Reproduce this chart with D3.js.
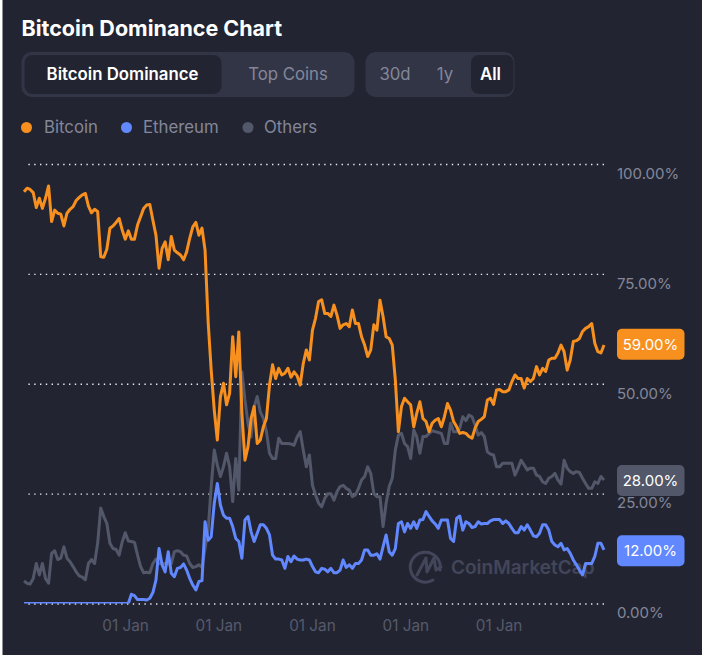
<!DOCTYPE html>
<html>
<head>
<meta charset="utf-8">
<script src="https://cdn.jsdelivr.net/npm/d3@7/dist/d3.min.js"></script>
<style>
  html, body { margin: 0; padding: 0; background: #fff; }
  svg { display: block; font-family: Inter, "Noto Sans", sans-serif; }
</style>
</head>
<body>
<svg id="chart" width="702" height="659"></svg>
<script>
// one sample every 12 days
const startDate = new Date(2013, 11, 2);
const stepDays = 12;

const bitcoin = [93.7,94.5,94.2,93.5,90.1,92.2,89.9,92.2,95,86.9,89.5,88.8,88.6,85.9,88.8,89.7,90.3,91.7,92.4,93,
  93.3,90.4,88.9,89.7,89.2,78.9,78.8,80.6,85.4,85.9,86.7,87.6,85,82.9,84.8,82.9,82.9,86.1,88,89.9,
  90.7,90.8,87.2,83.8,76.3,80.8,82.3,78.2,83.5,80.4,79.8,79.3,78.2,80,83.1,85.7,86.7,83.8,85.4,80.4,
  64.1,53.1,44,37.2,47,50.1,45.2,47.8,60.7,51.6,61.8,43.3,32.6,35.7,42.1,44.8,36.4,37.2,40.2,42.1,
  49.7,54.3,51.2,53.5,52,52.4,53.5,51.5,52.7,51.8,49.7,54.6,57.7,55.4,62.2,64.9,68.7,69.1,66,66,
  65.3,67.9,65.6,62.6,63.4,63.7,63,66.8,63.7,63.7,60.7,58.8,56.2,57.7,63.4,62.2,69,65.3,60.7,60.3,
  58.8,50.9,39.1,44.8,46.7,45.9,45.2,40.2,43.3,45.9,42.1,41.4,39.1,41,41.7,42.1,40.2,42.5,45.5,44,
  41.4,40.2,38.7,38.9,38.7,38,37.6,39.9,41.4,41.9,42.5,46.3,46.7,45.3,48.6,48.7,48.2,48.2,48.6,50.5,
  52,51.2,51.2,49,51.2,50.5,51.2,53.9,52,53.5,52.8,55.4,55.8,55.8,57,58.8,57.3,53.1,55.4,59.6,
  59.8,60.3,61.9,62.6,63,63.7,59.2,57.3,57,58.8];

const ethereum = [0,0,0,0,0,0,0,0,0,0,0,0,0,0,0,0,0,0,0,0,
  0,0,0,0,0,0,0,0,0,0,0,0,0,0,0,2.1,1.8,0.9,0.9,0.9,
  0.8,1.2,2.5,5.3,12.5,8.8,7.2,11.8,6.9,6.1,8,8.2,9,7.6,5.7,4.2,3.1,5,5.2,18.6,
  14.4,15.2,22.8,27.3,22.4,20.1,19.4,19.4,17.5,14.8,14.1,10.3,19,19.8,16.3,14.1,16,17.9,17.9,17.1,
  15.6,11,10.1,10.1,9.9,8,10.7,9.5,10.8,10.1,9.9,9.9,10.1,9.9,8.4,7.2,7,8,7.8,7.2,
  8,7,7,7.6,9.9,8.2,8.8,8,9.1,9.1,9.9,12.2,12.2,11,11,11.3,10.1,12.9,15.6,11.8,
  11,12.5,18.2,18.6,16.3,18.2,17.1,18.6,17.1,19,19.1,20.9,19.8,18.8,18.1,17.1,19,19,19,14.8,
  14.1,19.4,19.9,16.7,18.6,18.2,17.3,17.5,18.6,18.1,18.2,18.2,18.8,19.1,19.1,19.1,18.2,18.8,18.2,17.1,
  16.1,16.1,17.5,16.7,17.9,16.7,15.4,15.2,16,17.9,17.9,16.7,14.1,13.3,12.9,13.7,12.2,12.5,11.4,9.9,
  8.8,7.6,6.5,9.1,9.1,9.1,10.7,13.7,13.7,12.2];

const others = [5.1,4.6,4.4,5.7,9.1,6.5,9.1,5.7,4.6,11.4,12,10,10.3,12.9,10.3,9.5,8.4,7.2,6.3,6,
  5.4,9.1,10,9.1,13.7,21.7,19.8,18.2,13.7,12.5,12.3,11,14,16.1,14.2,14.1,13.9,11,8.4,7,
  7.1,7,9.1,10.1,9.1,9.1,9.1,9,9.1,11.8,12,11.8,11,10.8,9.1,8.2,8.4,8.8,8.2,12.5,
  16.7,26.6,34.9,31.5,28.9,31.1,34.2,31.1,23.2,33,25.8,52.7,46.3,41,37.9,44.8,47.1,43.6,42.1,39.1,
  34.2,33,33,37.6,36.4,36.4,36.4,36.3,36,37.9,39.1,34.9,31.1,33.8,26.9,24.7,22.8,22,23.9,25,
  25,23.5,25.4,26.6,26.9,26.2,25.8,24.3,24.7,26.2,28.1,28.9,31.1,29.6,25,24.3,24.3,17.5,22.8,26.6,
  28.5,34.9,38.3,38.7,36.4,35.7,33,39.5,37.9,34.2,38,38,38.7,39.3,39.1,38.9,38.7,36.4,36.4,41,
  39.1,39.1,39.9,42.5,41.6,42.9,42.5,40.6,38.3,38.9,38,34.5,34,33.8,31.1,31.1,31.9,31.9,31.9,31.9,
  29.2,30.8,32.6,31.5,30.4,30.8,30.8,29.2,28.9,27.7,27.3,28.5,28.9,29.6,28.1,27.2,32.6,30.8,30,29.6,
  30,29.8,28.5,27.3,26.2,26.2,27.7,27.3,28.9,28.1];

const yTicks = [0, 25, 50, 75, 100];
const xTickYears = [2015, 2016, 2017, 2018, 2019];
const legendNames = ['Bitcoin', 'Ethereum', 'Others'];
const badgeValues = [59, 28, 12];

const orange = '#f7901e', blue = '#6188ff', gray = '#53576a';
const bg = '#222531', pill = '#323546', muted = '#84879a';

const svg = d3.select('#chart');

// background leaves the thin white edge seen on the left and bottom
svg.append('rect').attr('x', 2.5).attr('y', 0).attr('width', 700).attr('height', 655).attr('fill', bg);

const dates = bitcoin.map((d, i) => d3.timeDay.offset(startDate, i * stepDays));
const x = d3.scaleTime().domain(d3.extent(dates)).range([24, 604]);
const y = d3.scaleLinear().domain([0, 100]).range([603.5, 164]);

// header
svg.append('text').attr('x', 21.5).attr('y', 35.5).attr('fill', '#fff')
  .attr('font-size', 21.5).attr('font-weight', 700).text('Bitcoin Dominance Chart');

function box(x0, y0, w, h, fill, r) {
  svg.append('rect').attr('x', x0).attr('y', y0).attr('width', w).attr('height', h)
    .attr('rx', r).attr('fill', fill);
}
function tabLabel(cx, label, active) {
  svg.append('text').attr('x', cx).attr('y', 80).attr('text-anchor', 'middle')
    .attr('font-size', 16.8).attr('font-weight', active ? 600 : 400)
    .attr('fill', active ? '#fff' : muted).text(label);
}
box(21.5, 52, 333, 45, pill, 10);
box(24.5, 55, 197, 39, bg, 8);
box(365.5, 52, 149, 45, pill, 10);
box(471, 55, 42.5, 39, bg, 8);
tabLabel(122.5, 'Bitcoin Dominance', true);
tabLabel(288, 'Top Coins', false);
tabLabel(395, '30d', false);
tabLabel(445, '1y', false);
tabLabel(490.5, 'All', true);

// legend
const legendColors = [orange, blue, gray];
const legendDotX = [26.5, 126.5, 248];
const legendTextX = [44, 143, 264];
legendNames.forEach(function(name, i) {
  svg.append('circle').attr('cx', legendDotX[i]).attr('cy', 127.5).attr('r', 5.5).attr('fill', legendColors[i]);
  svg.append('text').attr('x', legendTextX[i]).attr('y', 133).attr('font-size', 16.8)
    .attr('fill', muted).text(name);
});

// watermark
const mark = svg.append('g').attr('fill', 'none').attr('stroke', '#43465a').attr('stroke-width', 3);
mark.append('path').attr('stroke-linecap', 'round')
  .attr('d', 'M 440 570 A 15 15 0 1 0 433 580');
mark.append('path').attr('stroke-linejoin', 'round').attr('stroke-linecap', 'round')
  .attr('d', 'M 417 575 L 426 558 L 427 572 L 434 558 L 436 570 L 441 567');
svg.append('text').attr('x', 451).attr('y', 574).attr('font-size', 19).attr('font-weight', 600)
  .attr('fill', '#43465a').text('CoinMarketCap');

// gridlines
svg.append('g').attr('transform', 'translate(604,0)')
  .call(d3.axisLeft(y).tickValues(yTicks).tickSize(580).tickFormat(''))
  .call(g => g.select('.domain').remove())
  .call(g => g.selectAll('line').attr('stroke', '#e8e9ee').attr('stroke-width', 1.3)
    .attr('stroke-dasharray', '1.4 4.4'));

// y labels sit a little below their gridlines
svg.append('g').attr('transform', 'translate(617,9.5)')
  .call(d3.axisRight(y).tickValues(yTicks).tickSize(0).tickPadding(0).tickFormat(d => d3.format('.2f')(d) + '%'))
  .call(g => g.select('.domain').remove())
  .call(g => g.selectAll('text').attr('font-size', 15).attr('font-family', 'Inter').attr('fill', muted));

// x labels
const xTicks = xTickYears.map(yr => new Date(yr, 0, 1));
svg.append('g').attr('transform', 'translate(0,620.5)')
  .call(d3.axisBottom(x).tickValues(xTicks).tickSize(0).tickPadding(0).tickFormat(d3.timeFormat('%d %b')))
  .call(g => g.select('.domain').remove())
  .call(g => g.selectAll('text').attr('font-size', 15.3).attr('font-family', 'Inter').attr('fill', '#565a6c'));

// series, clipped at the zero line so the flat ethereum start looks thin
svg.append('clipPath').attr('id', 'plot').append('rect')
  .attr('x', 20).attr('y', 150).attr('width', 590).attr('height', 453.5);

const line = d3.line().x((d, i) => x(dates[i])).y(d => y(d));
const plot = svg.append('g').attr('clip-path', 'url(#plot)');
[[others, gray], [ethereum, blue], [bitcoin, orange]].forEach(function(s) {
  plot.append('path').datum(s[0]).attr('d', line).attr('fill', 'none')
    .attr('stroke', s[1]).attr('stroke-width', 3).attr('stroke-linejoin', 'round');
});

// current value badges
[orange, gray, blue].forEach(function(col, i) {
  const v = badgeValues[i];
  svg.append('rect').attr('x', 617).attr('y', y(v) - 15.5).attr('width', 67.5).attr('height', 31)
    .attr('rx', 5).attr('fill', col);
  svg.append('text').attr('x', 650.5).attr('y', y(v) + 5.5).attr('text-anchor', 'middle')
    .attr('font-size', 15).attr('fill', '#fff').text(d3.format('.2f')(v) + '%');
});
</script>
</body>
</html>
